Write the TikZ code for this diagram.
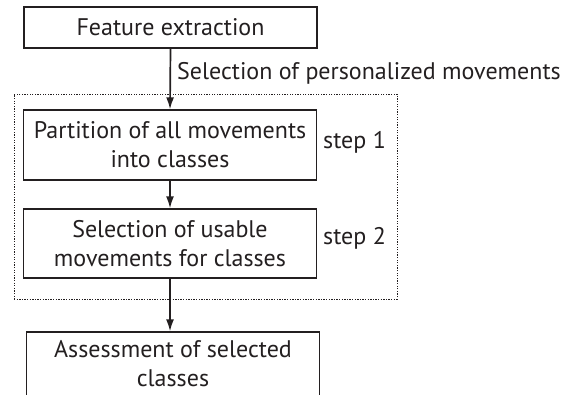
\documentclass[tikz,border=0pt]{standalone}
\usepackage{fontspec}
\setmainfont{PT Sans}
\usetikzlibrary{arrows.meta}
\definecolor{inkgray}{HTML}{231F20}
\tikzset{
  stage/.style={draw=inkgray, line width=1.3pt, minimum width=293pt, align=center, inner sep=0pt},
  flow/.style={-{Latex[length=12pt,width=8pt]}, line width=1.7pt, draw=inkgray},
  group/.style={draw=inkgray, line width=0.9pt, dash pattern=on 1.3pt off 1.3pt}
}
\begin{document}
\begin{tikzpicture}[x=1pt, y=-1pt, font=\fontsize{24}{29}\selectfont, text=inkgray]
      \useasboundingbox (0,0) rectangle (581,395);
      \clip (0,0) rectangle (581,395);
      \draw
        (170.5,27.5) node[stage, minimum height=41pt] (feat){Feature extraction}
        (170,145) node[stage, minimum height=70pt] (part){Partition of all movements\\into classes}
        (170,243.5) node[stage, minimum height=69pt] (usable){Selection of usable\\movements for classes}
        (173,364) node[stage, minimum height=64pt] (assess){Assessment of selected\\classes};
      \draw
        (205.5,196.5) node[group, minimum width=383pt, minimum height=205pt] (steps){}
        (177,80) node[anchor=base west, inner sep=0pt] (selpers){Selection of personalized movements}
        (323,142) node[anchor=west, inner sep=0pt] (step1){step 1}
        (323,238) node[anchor=west, inner sep=0pt] (step2){step 2};
      \begin{scope}[flow]
        \draw (feat.south) to (part.north);
        \draw (part.south) to (usable.north);
        \draw (usable.south) to (usable.south |- assess.north);
      \end{scope}
    \end{tikzpicture}
\end{document}
